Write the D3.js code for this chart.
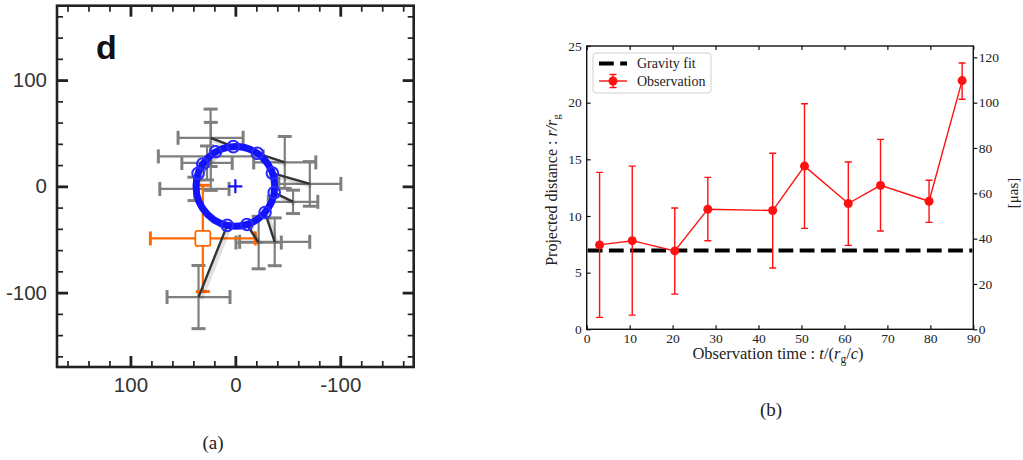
<!DOCTYPE html>
<html>
<head>
<meta charset="utf-8">
<script src="https://cdnjs.cloudflare.com/ajax/libs/d3/7.8.5/d3.min.js"></script>
<style>
body { margin: 0; background: #fff; }
svg { display: block; background: #fff; }
.serif text, text.serif { font-family: 'Liberation Serif', 'DejaVu Serif', serif; }
.sans text, text.sans { font-family: 'Liberation Sans', Arial, sans-serif; }
</style>
</head>
<body>
<svg id="chart" width="1023" height="460"></svg>
<script>
'use strict';

/* globals d3 */

// ---- panel (a): sky positions in micro-arcseconds ----
var orbitRadius = 37.5;
var modelX = [35.5, 31.1, 18.8, 2.0, -21.0, -35.3, -37.0, -28.3, -11.0, 7.8];
var modelY = [12.2, 21.0, 32.5, 37.4, 31.1, 12.5, -5.9, -24.6, -35.9, -36.7];
var skyX = [23.4, 39.0, 27.0, 23.6, -47.1, -71.0, -55.0, -37.5, -22.2, 35.1];
var skyY = [28.2, -2.4, 22.0, 45.7, 22.5, 2.3, -14.6, -52.2, -52.9, -104.2];
var skyErrX = [50, 33, 24, 31, 29.6, 29.6, 23.6, 33.4, 21.6, 30];
var skyErrY = [32, 11, 16, 27, 24.4, 21, 11, 22.5, 24.7, 29.7];
var flareX = [31], flareY = [-49], flareErrX = [50], flareErrY = [50];
var majorTicksA = [-100, 0, 100];
var minorTicksA = [-160, -140, -120, -80, -60, -40, -20, 20, 40, 60, 80, 120, 140, 160];

// ---- panel (b): projected distance vs time ----
var obsTime = [3.0, 10.6, 20.5, 28.2, 43.3, 50.7, 60.9, 68.4, 79.7, 87.4];
var obsDist = [7.45, 7.82, 6.92, 10.6, 10.48, 14.4, 11.1, 12.7, 11.3, 21.95];
var obsLow = [1.05, 1.25, 3.1, 7.82, 5.41, 8.91, 7.41, 8.68, 9.44, 20.3];
var obsHigh = [13.85, 14.4, 10.7, 13.41, 15.53, 19.9, 14.76, 16.76, 13.15, 23.5];
var gravityFit = 6.95;
var timeTicks = [0, 10, 20, 30, 40, 50, 60, 70, 80, 90];
var distTicks = [0, 5, 10, 15, 20, 25];
var muasTicks = [0, 20, 40, 60, 80, 100, 120];

var svg = d3.select('#chart');

/**
 * Panel (a)
 */
var A = { left: 57, right: 413.7, top: 5.7, bottom: 367 };
var xA = d3.scaleLinear().domain([170, -170]).range([A.left, A.right]);
var yA = d3.scaleLinear().domain([170, -170]).range([A.top, A.bottom]);
var gA = svg.append('g').attr('class', 'sans');

var plain = function (d) { return String(d); };

// ticks on all four sides, pointing inward
function ticksA(axisFn, scale, tx, ty, withLabels) {
    var minor = gA.append('g').attr('transform', 'translate(' + tx + ',' + ty + ')')
        .call(axisFn(scale).tickValues(minorTicksA).tickSize(-6).tickFormat(''));
    var major = gA.append('g').attr('transform', 'translate(' + tx + ',' + ty + ')')
        .call(axisFn(scale).tickValues(majorTicksA).tickSize(-11).tickPadding(withLabels ? 10 : 0)
            .tickFormat(withLabels ? plain : ''));
    [minor, major].forEach(function (g) {
        g.select('.domain').remove();
        g.selectAll('line').attr('stroke', '#222');
    });
    minor.selectAll('line').attr('stroke-width', 1.7);
    major.selectAll('line').attr('stroke-width', 2.8);
    major.selectAll('text').attr('font-size', 20.5).attr('fill', '#333');
}
ticksA(d3.axisBottom, xA, 0, A.bottom, true);
ticksA(d3.axisTop, xA, 0, A.top, false);
ticksA(d3.axisLeft, yA, A.left, 0, true);
ticksA(d3.axisRight, yA, A.right, 0, false);

gA.append('rect')
    .attr('x', A.left).attr('y', A.top)
    .attr('width', A.right - A.left).attr('height', A.bottom - A.top)
    .attr('fill', 'none').attr('stroke', '#222').attr('stroke-width', 2.6);

gA.append('text').text('d')
    .attr('x', 96).attr('y', 59)
    .attr('font-size', 34).attr('font-weight', 'bold').attr('fill', '#111');

// error bars with caps
function crossBars(g, xs, ys, exs, eys, color, width) {
    var cap = 7;
    xs.forEach(function (x0, i) {
        var y0 = ys[i], ex = exs[i], ey = eys[i];
        var px = xA(x0), py = yA(y0);
        var l = xA(x0 + ex), r = xA(x0 - ex), t = yA(y0 + ey), b = yA(y0 - ey);
        var segs = [
            [l, py, r, py], [px, t, px, b],
            [l, py - cap, l, py + cap], [r, py - cap, r, py + cap],
            [px - cap, t, px + cap, t], [px - cap, b, px + cap, b]
        ];
        g.selectAll(null).data(segs).enter().append('line')
            .attr('x1', function (s) { return s[0]; }).attr('y1', function (s) { return s[1]; })
            .attr('x2', function (s) { return s[2]; }).attr('y2', function (s) { return s[3]; })
            .attr('stroke', color)
            .attr('stroke-width', function (s, k) { return k < 2 ? width : width + 0.8; });
    });
}
crossBars(gA.append('g'), skyX, skyY, skyErrX, skyErrY, '#7f7f7f', 2.2);
crossBars(gA.append('g'), flareX, flareY, flareErrX, flareErrY, '#ff6a00', 2.2);

gA.append('rect')
    .attr('x', xA(flareX[0]) - 7.5).attr('y', yA(flareY[0]) - 7.5)
    .attr('width', 15).attr('height', 15).attr('rx', 2)
    .attr('fill', '#fff').attr('stroke', '#ff6a00').attr('stroke-width', 1.8);

// lines linking model positions to observed positions (soft shadow underneath)
var links = gA.append('g');
[['#000', 5, 0.12], ['#333', 2.4, 1]].forEach(function (st) {
    links.append('g').selectAll('line').data(skyX).enter().append('line')
        .attr('x1', function (d) { return xA(d) + (st[2] < 1 ? 2 : 0); })
        .attr('y1', function (d, i) { return yA(skyY[i]) + (st[2] < 1 ? 2 : 0); })
        .attr('x2', function (d, i) { return xA(modelX[i]) + (st[2] < 1 ? 2 : 0); })
        .attr('y2', function (d, i) { return yA(modelY[i]) + (st[2] < 1 ? 2 : 0); })
        .attr('stroke', st[0]).attr('stroke-width', st[1]).attr('stroke-opacity', st[2]);
});

// orbit ring and model markers
gA.append('ellipse')
    .attr('cx', xA(0)).attr('cy', yA(0))
    .attr('rx', xA(-orbitRadius) - xA(0)).attr('ry', yA(-orbitRadius) - yA(0))
    .attr('fill', 'none').attr('stroke', '#1212ff').attr('stroke-width', 7);

gA.append('g').selectAll('circle').data(modelX).enter().append('circle')
    .attr('cx', function (d) { return xA(d); })
    .attr('cy', function (d, i) { return yA(modelY[i]); })
    .attr('r', 5.8)
    .attr('fill', 'none').attr('stroke', '#2a2aff').attr('stroke-width', 2);

gA.append('path')
    .attr('d', 'M' + (xA(0) - 7) + ',' + yA(0) + 'H' + (xA(0) + 7) +
        'M' + xA(0) + ',' + (yA(0) - 7) + 'V' + (yA(0) + 7))
    .attr('stroke', '#1010ff').attr('stroke-width', 2.2);

svg.append('text').attr('class', 'serif').text('(a)')
    .attr('x', 213).attr('y', 449).attr('text-anchor', 'middle')
    .attr('font-size', 19).attr('fill', '#222');

/**
 * Panel (b)
 */
var B = { left: 586.7, right: 973.3, top: 46, bottom: 329.3 };
var xB = d3.scaleLinear().domain([0, 90]).range([B.left, B.right]);
var yB = d3.scaleLinear().domain([0, 25]).range([B.bottom, B.top]);
var yR = d3.scaleLinear().domain([0, 125]).range([B.bottom, B.top]);
var gB = svg.append('g').attr('class', 'serif');

function styleAxis(g) {
    g.select('.domain').remove();
    g.selectAll('line').attr('stroke', '#111').attr('stroke-width', 1.2);
    g.selectAll('text').attr('font-size', 13.5).attr('fill', '#222');
    return g;
}
styleAxis(gB.append('g').attr('transform', 'translate(0,' + B.bottom + ')')
    .call(d3.axisBottom(xB).tickValues(timeTicks).tickSize(-4).tickPadding(4).tickFormat(plain)));
styleAxis(gB.append('g').attr('transform', 'translate(0,' + B.top + ')')
    .call(d3.axisTop(xB).tickValues(timeTicks).tickSize(-4).tickFormat('')));
styleAxis(gB.append('g').attr('transform', 'translate(' + B.left + ',0)')
    .call(d3.axisLeft(yB).tickValues(distTicks).tickSize(-4).tickPadding(5).tickFormat(plain)));
styleAxis(gB.append('g').attr('transform', 'translate(' + B.right + ',0)')
    .call(d3.axisRight(yR).tickValues(muasTicks).tickSize(4).tickPadding(1.5).tickFormat(plain)));

gB.append('rect')
    .attr('x', B.left).attr('y', B.top)
    .attr('width', B.right - B.left).attr('height', B.bottom - B.top)
    .attr('fill', 'none').attr('stroke', '#111').attr('stroke-width', 1.4);

// gravity fit
gB.append('line')
    .attr('x1', B.left + 1).attr('x2', B.right - 1)
    .attr('y1', yB(gravityFit)).attr('y2', yB(gravityFit))
    .attr('stroke', '#000').attr('stroke-width', 4).attr('stroke-dasharray', '14.8,6.4');

// observations with error bars
var red = '#ff1111';
var obs = gB.append('g');
obs.selectAll('.err').data(obsTime).enter().append('path').attr('class', 'err')
    .attr('d', function (t, i) {
        var x = xB(t), lo = yB(obsLow[i]), hi = yB(obsHigh[i]);
        return 'M' + x + ',' + lo + 'V' + hi +
            'M' + (x - 3.5) + ',' + hi + 'H' + (x + 3.5) +
            'M' + (x - 3.5) + ',' + lo + 'H' + (x + 3.5);
    })
    .attr('fill', 'none').attr('stroke', red).attr('stroke-width', 1.4);

obs.append('path')
    .datum(obsTime)
    .attr('d', d3.line()
        .x(function (t) { return xB(t); })
        .y(function (t, i) { return yB(obsDist[i]); }))
    .attr('fill', 'none').attr('stroke', red).attr('stroke-width', 1.4);

obs.selectAll('circle').data(obsTime).enter().append('circle')
    .attr('cx', function (t) { return xB(t); })
    .attr('cy', function (t, i) { return yB(obsDist[i]); })
    .attr('r', 4.5).attr('fill', red);

// legend
var leg = gB.append('g');
leg.append('rect')
    .attr('x', 593).attr('y', 53).attr('width', 118).attr('height', 40).attr('rx', 3)
    .attr('fill', '#fff').attr('stroke', '#cfcfcf').attr('stroke-width', 1);
leg.append('line')
    .attr('x1', 599).attr('x2', 627).attr('y1', 63.5).attr('y2', 63.5)
    .attr('stroke', '#000').attr('stroke-width', 4).attr('stroke-dasharray', '14.8,6.4');
leg.append('line')
    .attr('x1', 599).attr('x2', 627).attr('y1', 81).attr('y2', 81)
    .attr('stroke', red).attr('stroke-width', 1.4);
leg.append('path')
    .attr('d', 'M613,74.5V87.5M609.5,74.5H616.5M609.5,87.5H616.5')
    .attr('stroke', red).attr('stroke-width', 1.4).attr('fill', 'none');
leg.append('circle').attr('cx', 613).attr('cy', 81).attr('r', 4.5).attr('fill', red);
leg.append('text').text('Gravity fit').attr('x', 637).attr('y', 68)
    .attr('font-size', 14).attr('fill', '#222');
leg.append('text').text('Observation').attr('x', 637).attr('y', 86)
    .attr('font-size', 14).attr('fill', '#222');

// axis titles
var yTitle = gB.append('text')
    .attr('transform', 'translate(557,190) rotate(-90)')
    .attr('text-anchor', 'middle').attr('font-size', 16).attr('fill', '#222');
yTitle.append('tspan').text('Projected distance : ');
yTitle.append('tspan').attr('font-style', 'italic').text('r/r');
yTitle.append('tspan').attr('font-size', 11).attr('dy', 3).text('g');

var xTitle = gB.append('text')
    .attr('x', 778).attr('y', 359)
    .attr('text-anchor', 'middle').attr('font-size', 16.5).attr('fill', '#222');
xTitle.append('tspan').text('Observation time : ');
xTitle.append('tspan').attr('font-style', 'italic').text('t');
xTitle.append('tspan').text('/(');
xTitle.append('tspan').attr('font-style', 'italic').text('r');
xTitle.append('tspan').attr('font-size', 11.5).attr('dy', 3.5).text('g');
xTitle.append('tspan').attr('dy', -3.5).text('/');
xTitle.append('tspan').attr('font-style', 'italic').text('c');
xTitle.append('tspan').text(')');

gB.append('text')
    .attr('transform', 'translate(1018,193) rotate(-90)')
    .attr('text-anchor', 'middle').attr('font-size', 15).attr('fill', '#222')
    .text('[\u03bcas]');

svg.append('text').attr('class', 'serif').text('(b)')
    .attr('x', 771).attr('y', 416).attr('text-anchor', 'middle')
    .attr('font-size', 19).attr('fill', '#222');
</script>
</body>
</html>
